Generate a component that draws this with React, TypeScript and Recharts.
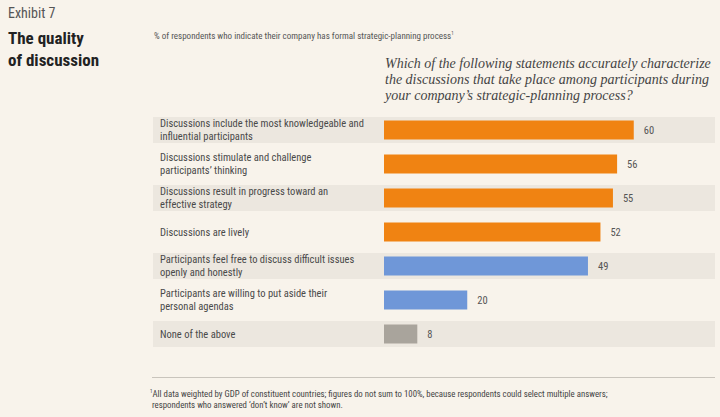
import React from 'react';
import { BarChart, Bar, XAxis, YAxis, Cell, LabelList } from 'recharts';

const statements = [
  'Discussions include the most knowledgeable and\ninfluential participants',
  'Discussions stimulate and challenge\nparticipants\u2019 thinking',
  'Discussions result in progress toward an\neffective strategy',
  'Discussions are lively',
  'Participants feel free to discuss difficult issues\nopenly and honestly',
  'Participants are willing to put aside their\npersonal agendas',
  'None of the above',
];
const shares = [60, 56, 55, 52, 49, 20, 8];

const rows = statements.map((s, i) => ({ label: s, value: shares[i] }));

const BG = '#f8f3eb';
const BAND = '#ece7df';
const barColors = ['#f08312', '#f08312', '#f08312', '#f08312', '#6f97d8', '#6f97d8', '#a9a49c'];
const SANS = "'Liberation Sans Narrow', 'Roboto Condensed', 'Arial Narrow', 'DejaVu Sans Condensed', sans-serif";

function BarWithBand(props: any) {
  const { x, y, width, height, fill, index } = props;
  const cy = y + height / 2;
  return (
    <g>
      {index % 2 === 0 && <rect x={153} y={cy - 13} width={562} height={26} fill={BAND} />}
      <rect x={x} y={y} width={width} height={height} fill={fill} />
    </g>
  );
}

function StatementTick(props: any) {
  const { y, payload } = props;
  const lines = String(payload.value).split('\n');
  const lh = 13;
  const y0 = y - ((lines.length - 1) * lh) / 2;
  return (
    <text x={160} y={y0} textAnchor="start" fontSize={10.5} fill="#4a4a4a" fontFamily={SANS} dominantBaseline="central">
      {lines.map((l, i) => (
        <tspan key={i} x={160} y={y0 + i * lh}>{l}</tspan>
      ))}
    </text>
  );
}

export default function App() {
  return (
    <div style={{ position: 'fixed', left: 0, top: 0, width: 720, height: 417, background: BG, overflow: 'hidden' }}>
      <div style={{ position: 'absolute', left: 8, top: 5, fontFamily: SANS, fontSize: 14, color: '#555' }}>Exhibit 7</div>
      <div style={{ position: 'absolute', left: 8, top: 27, fontFamily: SANS, fontSize: 17, fontWeight: 700, color: '#222', lineHeight: '22px' }}>
        The quality<br />of discussion
      </div>
      <div style={{ position: 'absolute', left: 154, top: 30, fontFamily: SANS, fontSize: 9, color: '#555' }}>
        % of respondents who indicate their company has formal strategic-planning process<sup style={{ fontSize: 5 }}>1</sup>
      </div>
      <div style={{ position: 'absolute', left: 385, top: 56, fontFamily: "'Liberation Serif', 'DejaVu Serif', serif", fontStyle: 'italic', fontSize: 14, color: '#444', lineHeight: '16px' }}>
        Which of the following statements accurately characterize<br />
        the discussions that take place among participants during<br />
        your company&rsquo;s strategic-planning process?
      </div>
      <div style={{ position: 'absolute', left: 0, top: 0 }}>
        <BarChart width={720} height={417} data={rows} layout="vertical" barSize={19}
          margin={{ top: 112.5, right: 3, bottom: 66.5, left: 0 }}>
          <XAxis type="number" domain={[0, 80]} hide />
          <YAxis type="category" dataKey="label" width={384} axisLine={false} tickLine={false} tick={<StatementTick />} interval={0} />
          <Bar dataKey="value" isAnimationActive={false} shape={<BarWithBand />}>
            {rows.map((_, i) => <Cell key={i} fill={barColors[i]} />)}
            <LabelList dataKey="value" position="right" offset={10} fontSize={10.5} fill="#555" fontFamily={SANS} />
          </Bar>
        </BarChart>
      </div>
      <div style={{ position: 'absolute', left: 152, top: 377, width: 563, height: 1, background: '#c9c4bc' }} />
      <div style={{ position: 'absolute', left: 150, top: 386, fontFamily: SANS, fontSize: 8.8, color: '#444', lineHeight: '11px' }}>
        <sup style={{ fontSize: 5 }}>1</sup>All data weighted by GDP of constituent countries; figures do not sum to 100%, because respondents could select multiple answers;<br />
        &nbsp;respondents who answered &lsquo;don&rsquo;t know&rsquo; are not shown.
      </div>
    </div>
  );
}
